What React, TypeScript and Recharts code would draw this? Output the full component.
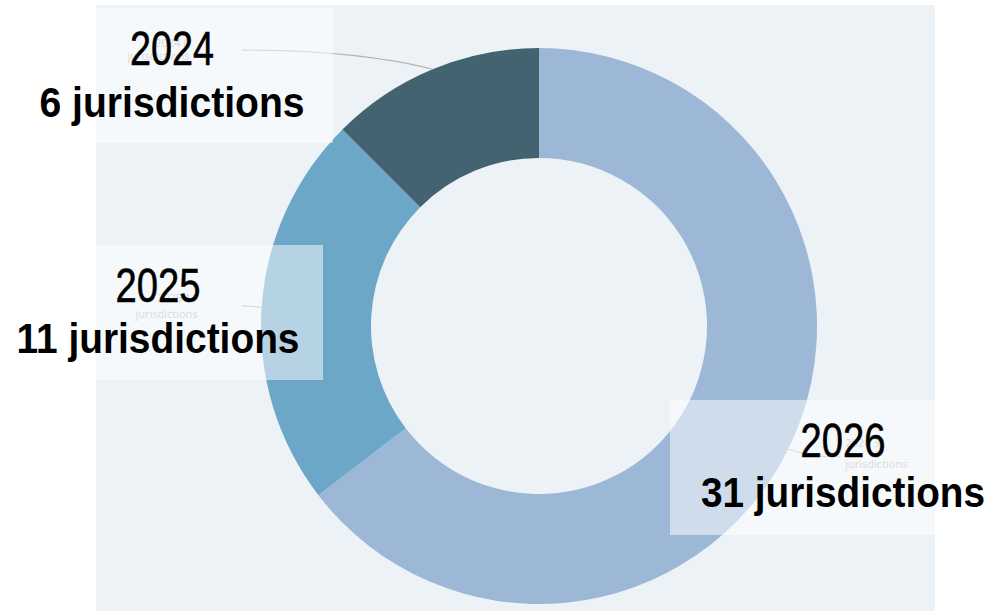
import React from 'react';
import { PieChart, Pie, Cell } from 'recharts';

// Jurisdictions by year
const years = ['2026', '2025', '2024'];
const counts = [31, 11, 6];
const sliceColors = ['#9cb8d6', '#6da7c8', '#42636f'];

const chartData = years.map((year, i) => ({ name: year, value: counts[i] }));

// small leader-line label layout (offsets from the slice's outer edge)
const labelLayout = [
  { dx: 52, dy: 8, anchor: 'start', tx: 5, ty1: -10, ty2: 11 },
  { dx: -20, dy: -2, anchor: 'end', tx: -44, ty1: -4, ty2: 12 },
  { dx: -191, dy: -19, anchor: 'end', tx: -52, ty1: -3, ty2: 10 },
];

// big callout boxes drawn over the chart
const callouts = [
  { box: [670, 400, 265, 135], cx: 843, y1: 457, y2: 507, w1: 85, w2: 284 },
  { box: [96, 245, 227, 135], cx: 158, y1: 302, y2: 353, w1: 85, w2: 283 },
  { box: [96, 8, 237, 135], cx: 172, y1: 65, y2: 117, w1: 84, w2: 265 },
];

const RADIAN = Math.PI / 180;

function renderLabel(props: any) {
  const { cx, cy, midAngle, outerRadius, index, value, name } = props;
  const L = labelLayout[index];
  const ox = cx + outerRadius * Math.cos(-midAngle * RADIAN);
  const oy = cy + outerRadius * Math.sin(-midAngle * RADIAN);
  const ex = ox + L.dx;
  const ey = oy + L.dy;
  return (
    <g key={`lbl-${index}`}>
      <path d={`M${ox},${oy} Q${ox + L.dx * 0.4},${ey} ${ex},${ey}`} stroke="#b5b5b5" strokeWidth={1.2} fill="none" />
      <text x={ex + L.tx} y={ey + L.ty1} textAnchor={L.anchor} fontSize={11} fill="#b0b0b0" fontFamily="'Open Sans', sans-serif">
        {`${name} ${value}`}
      </text>
      <text x={ex + L.tx} y={ey + L.ty2} textAnchor={L.anchor} fontSize={11} fill="#b0b0b0" fontFamily="'Open Sans', sans-serif">
        jurisdictions
      </text>
    </g>
  );
}

export default function App() {
  return (
    <div style={{ position: 'absolute', left: 0, top: 0, width: 989, height: 611, background: '#ffffff', overflow: 'hidden' }}>
      <div style={{ position: 'absolute', left: 96, top: 5, width: 839, height: 606, background: '#edf2f7' }} />
      <div style={{ position: 'absolute', left: 0, top: 0 }}>
        <PieChart width={989} height={611} margin={{ top: 0, right: 0, bottom: 0, left: 0 }}>
          <Pie
            data={chartData}
            dataKey="value"
            nameKey="name"
            cx={539}
            cy={326}
            innerRadius={168}
            outerRadius={278}
            startAngle={90}
            endAngle={-270}
            stroke="none"
            label={renderLabel}
            labelLine={false}
            isAnimationActive={false}
          >
            {chartData.map((d, i) => (
              <Cell key={d.name} fill={sliceColors[i]} />
            ))}
          </Pie>
        </PieChart>
      </div>
      <svg width={989} height={611} style={{ position: 'absolute', left: 0, top: 0, pointerEvents: 'none' }}>
        {callouts.map((c, i) => (
          <rect key={years[i]} x={c.box[0]} y={c.box[1]} width={c.box[2]} height={c.box[3]} fill="#ffffff" fillOpacity={0.5} />
        ))}
        {callouts.map((c, i) => (
          <g key={`t-${years[i]}`} fontFamily="'Liberation Sans', Arial, sans-serif" fill="#000000">
            <text x={c.cx} y={c.y1} textAnchor="middle" fontSize={49} stroke="#000000" strokeWidth={0.6} textLength={c.w1} lengthAdjust="spacingAndGlyphs">
              {years[i]}
            </text>
            <text x={c.cx} y={c.y2} textAnchor="middle" fontSize={42} fontWeight="bold" textLength={c.w2} lengthAdjust="spacingAndGlyphs">
              {`${counts[i]} jurisdictions`}
            </text>
          </g>
        ))}
      </svg>
    </div>
  );
}
